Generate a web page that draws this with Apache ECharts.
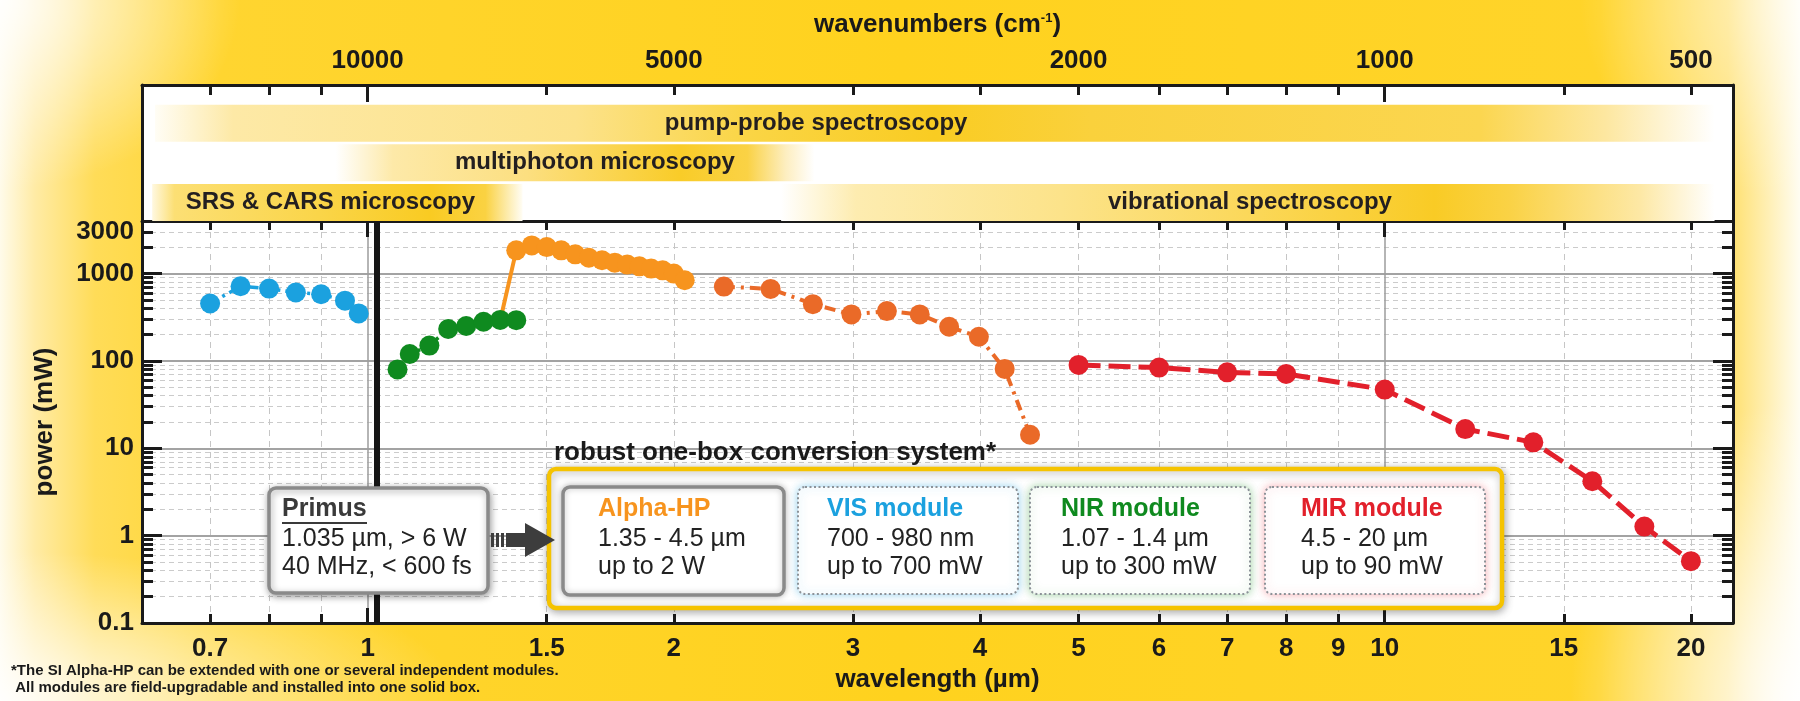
<!DOCTYPE html>
<html>
<head>
<meta charset="utf-8">
<script src="https://cdn.jsdelivr.net/npm/echarts@6/dist/echarts.min.js"></script>
<style>
html,body{margin:0;padding:0;width:1800px;height:701px;overflow:hidden;}
body{
  background:
    radial-gradient(ellipse 240px 190px at 0% 0%, rgba(255,255,255,0.9), rgba(255,255,255,0) 100%),
    radial-gradient(ellipse 460px 150px at 0% 100%, rgba(255,255,255,0.9), rgba(255,255,255,0) 100%),
    radial-gradient(ellipse 230px 300px at 100% 100%, rgba(255,255,255,0.95), rgba(255,255,255,0) 100%),
    radial-gradient(ellipse 220px 200px at 100% 0%, rgba(255,255,255,0.6), rgba(255,255,255,0) 100%),
    linear-gradient(to right, #fffbea 0px, #ffeba5 35px, #ffdc58 95px, #ffd530 220px, #ffd21e 900px, #ffd42a 1600px, #ffdf6a 1728px, #fff0b8 1770px, #fffdf2 1800px);
}
#c{width:1800px;height:701px;}
</style>
</head>
<body>
<div id="c"></div>
<script>
// ---------------- data ----------------
const visWavelength = [0.70, 0.75, 0.80, 0.85, 0.90, 0.95, 0.98];
const visPower      = [455, 716, 674, 607, 580, 490, 350];

const nirWavelength = [1.07, 1.10, 1.15, 1.20, 1.25, 1.30, 1.35, 1.40];
const nirPower      = [80, 120, 150, 232, 251, 281, 295, 293];

const alphaSignalWavelength = [1.35, 1.40, 1.45, 1.50, 1.55, 1.60, 1.65, 1.70, 1.75, 1.80, 1.85, 1.90, 1.95, 2.00, 2.05];
const alphaSignalPower      = [290, 1845, 2100, 2010, 1845, 1660, 1520, 1420, 1335, 1267, 1211, 1140, 1090, 1000, 840];

const alphaIdlerWavelength = [2.24, 2.49, 2.74, 2.99, 3.24, 3.49, 3.73, 3.99, 4.23, 4.48];
const alphaIdlerPower      = [710, 668, 447, 341, 372, 341, 246, 189, 81, 14.3];

const mirWavelength = [5, 6, 7, 8, 10, 12, 14, 16, 18, 20];
const mirPower      = [90, 84, 74, 71, 47, 16.6, 11.7, 4.2, 1.27, 0.51];

const primusWavelength = 1.025;

const bandNames = ['pump-probe spectroscopy', 'multiphoton microscopy', 'SRS & CARS microscopy', 'vibrational spectroscopy'];
const bandFrom  = [0.618, 0.93, 0.614, 2.55];
const bandTo    = [21.1, 2.75, 1.42, 21.1];
const bandRow   = [2, 1, 0, 0];

const wavelengthTicks      = [0.7, 1, 1.5, 2, 3, 4, 5, 6, 7, 8, 9, 10, 15, 20];
const wavelengthMinorTicks = [0.7, 0.8, 0.9, 1.5, 2, 3, 4, 5, 6, 7, 8, 9, 15, 20];
const wavelengthMajorTicks = [1, 10];
const wavenumberTicks      = [10000, 5000, 2000, 1000, 500];
const powerTicks           = [0.1, 1, 10, 100, 1000, 3000];
const powerMajorTicks      = [1, 10, 100, 1000];

// ---------------- styling / layout ----------------
const FONT = '"Liberation Sans", Arial, Helvetica, sans-serif';
const INK = '#1a1a1a';
const C = { vis:'#1ba1df', nir:'#0f8a1f', alpha:'#f7941e', idler:'#ea6a28', mir:'#e2202b' };
const X0 = 0.6, X1 = 22, Y0 = 0.1, Y1 = 4000;
const lg = Math.log10;

const powerMinorTicks = [];
[0.1, 1, 10, 100, 1000].forEach(d => { for (let k = 2; k <= 9; k++) { const v = k * d; if (v < Y1) powerMinorTicks.push(v); } });

const bandLabelAt = [2.76, 1.673, 0.919, 7.37];
const bandStops = [
  [[0,'#fffdf5'],[0.05,'#fde9a6'],[0.27,'#fce28a'],[0.38,'#fad545'],[0.5,'#f9cc22'],[0.6,'#fad13c'],[0.85,'#fbd650'],[0.93,'#fde7a0'],[1,'#ffffff']],
  [[0,'#ffffff'],[0.12,'#fde9a8'],[0.4,'#fcdf80'],[0.72,'#f9cc28'],[0.86,'#fad245'],[0.94,'#fdeec0'],[1,'#ffffff']],
  [[0,'#fff8e0'],[0.06,'#fcdf74'],[0.45,'#fad549'],[0.75,'#f9cb22'],[0.9,'#fad242'],[1,'#fffdf5']],
  [[0,'#ffffff'],[0.08,'#fdecb0'],[0.3,'#fce38a'],[0.5,'#fbd85a'],[0.7,'#f9cb25'],[0.78,'#fad245'],[0.92,'#fde8a5'],[1,'#ffffff']]
];

const AX_LINE = { show:true, onZero:false, lineStyle:{ color:INK, width:3 } };
const NO_LINE = { show:false, onZero:false };
const tick = (len, values) => ({ show:true, inside:true, length:len, customValues:values, lineStyle:{ color:INK, width:3 } });
const NO_LABEL = { show:false };
const labelStyle = { fontSize:26, fontWeight:'bold', color:INK, fontFamily:FONT };

const fmtWavelength = v => String(+Math.pow(10, v).toPrecision(3));
const fmtWavenumber = v => String(Math.round(1e4 / Math.pow(10, v)));
const fmtPower = v => String(+Math.pow(10, v).toPrecision(2));

const zip = (xs, ys) => xs.map((x, i) => [x, ys[i]]);

function renderBand(params, api) {
  const i = api.value(3);
  const row = api.value(2);
  const y0 = row * 1.05, y1 = y0 + 0.98;
  const p0 = api.coord([api.value(0), y0]);
  const p1 = api.coord([api.value(1), y1]);
  const lp = api.coord([bandLabelAt[i], y0 + 0.49]);
  return {
    type:'group',
    children:[
      { type:'rect', shape:{ x:p0[0], y:p1[1], width:p1[0]-p0[0], height:p0[1]-p1[1] },
        style:{ fill:new echarts.graphic.LinearGradient(0,0,1,0, bandStops[i].map(s => ({offset:s[0], color:s[1]}))) } },
      { type:'text', x:lp[0], y:lp[1],
        style:{ text:bandNames[i], fill:'#231f20', font:'bold 24px ' + FONT, align:'center', verticalAlign:'middle' } }
    ]
  };
}

const lineSeries = (name, xs, ys, color, width, dash, extra) => Object.assign({
  type:'line', name, xAxisIndex:3, yAxisIndex:2, data:zip(xs, ys),
  symbol:'circle', symbolSize:20, showAllSymbol:true,
  itemStyle:{ color }, lineStyle:{ color, width, type:dash },
  emphasis:{ disabled:true }, z:3
}, extra || {});

// ---------------- annotation boxes ----------------
const T = (x, y, text, font, fill) => ({ type:'text', x, y, z:120, silent:true,
  style:{ text, font:font + ' ' + FONT, fill, align:'left', verticalAlign:'middle' } });
const box = (x, y, w, h, style) => ({ type:'rect', z:110, silent:true, shape:{ x, y, width:w, height:h, r:7 }, style:Object.assign({ fill:'#fff' }, style) });
const moduleBox = (x, glow) => box(x, 487, 220, 107, { stroke:'#8c9298', lineWidth:2, lineDash:[2,2.5], shadowBlur:10, shadowColor:glow });

const graphics = [
  T(554, 453, 'robust one-box conversion system*', 'bold 26px', INK),
  box(549, 469, 953, 139, { stroke:'#f5c300', lineWidth:4.5, shadowBlur:8, shadowColor:'rgba(0,0,0,0.3)', shadowOffsetX:1, shadowOffsetY:2 }),
  box(269, 488, 219, 105, { stroke:'#8a8a8a', lineWidth:3.5, shadowBlur:7, shadowColor:'rgba(0,0,0,0.35)', shadowOffsetX:1, shadowOffsetY:2 }),
  box(563, 487, 221, 108, { stroke:'#8a8a8a', lineWidth:3.5, shadowBlur:6, shadowColor:'rgba(0,0,0,0.25)' }),
  moduleBox(798, 'rgba(30,160,220,0.45)'),
  moduleBox(1030, 'rgba(20,140,30,0.4)'),
  moduleBox(1265, 'rgba(226,32,43,0.35)'),
  T(282, 509, 'Primus', 'bold 25px', '#3a3a3a'),
  { type:'line', z:120, silent:true, shape:{ x1:282, y1:523, x2:367, y2:523 }, style:{ stroke:'#3a3a3a', lineWidth:2 } },
  T(282, 539, '1.035 µm, > 6 W', '25px', '#222'),
  T(282, 567, '40 MHz, < 600 fs', '25px', '#222'),
  T(598, 509, 'Alpha-HP', 'bold 25px', C.alpha),
  T(598, 539, '1.35 - 4.5 µm', '25px', '#222'),
  T(598, 567, 'up to 2 W', '25px', '#222'),
  T(827, 509, 'VIS module', 'bold 25px', C.vis),
  T(827, 539, '700 - 980 nm', '25px', '#222'),
  T(827, 567, 'up to 700 mW', '25px', '#222'),
  T(1061, 509, 'NIR module', 'bold 25px', C.nir),
  T(1061, 539, '1.07 - 1.4 µm', '25px', '#222'),
  T(1061, 567, 'up to 300 mW', '25px', '#222'),
  T(1301, 509, 'MIR module', 'bold 25px', C.mir),
  T(1301, 539, '4.5 - 20 µm', '25px', '#222'),
  T(1301, 567, 'up to 90 mW', '25px', '#222'),
  { type:'rect', z:115, silent:true, shape:{ x:491, y:533, width:3, height:14 }, style:{ fill:'#3d3d3d' } },
  { type:'rect', z:115, silent:true, shape:{ x:496, y:533, width:3, height:14 }, style:{ fill:'#3d3d3d' } },
  { type:'rect', z:115, silent:true, shape:{ x:501, y:533, width:3, height:14 }, style:{ fill:'#3d3d3d' } },
  { type:'polygon', z:115, silent:true, shape:{ points:[[506,533],[525,533],[525,523],[555,540],[525,557],[525,547],[506,547]] }, style:{ fill:'#3d3d3d' } },
  T(11, 671, '*The SI Alpha-HP can be extended with one or several independent modules.', 'bold 15px', INK),
  T(11, 688, ' All modules are field-upgradable and installed into one solid box.', 'bold 15px', INK)
];

// ---------------- chart ----------------
const chart = echarts.init(document.getElementById('c'), null, { renderer:'canvas', width:1800, height:701 });

const xv = { type:'value', min:lg(X0), max:lg(X1) };
const yv = { type:'value', min:lg(Y0), max:lg(Y1) };

chart.setOption({
  animation:false,
  backgroundColor:'transparent',
  textStyle:{ fontFamily:FONT },
  grid:[
    { left:142, right:67, top:85, height:136, show:true, backgroundColor:'#fff', borderWidth:0 },
    { left:142, right:67, top:221, bottom:78, show:true, backgroundColor:'#fff', borderWidth:0 }
  ],
  xAxis:[
    { gridIndex:0, type:'log', min:X0, max:X1, show:false },
    Object.assign({}, xv, { gridIndex:0, position:'top', axisLine:AX_LINE, axisTick:tick(10, wavelengthMinorTicks.map(lg)),
      axisLabel:Object.assign({ customValues:wavenumberTicks.map(w => lg(1e4 / w)), formatter:fmtWavenumber, margin:11 }, labelStyle),
      splitLine:{ show:false },
      name:'{a|wavenumbers (cm}{b|-1}{a|)}', nameLocation:'middle', nameGap:47,
      nameTextStyle:{ rich:{ a:{ fontSize:26, fontWeight:'bold', color:INK, fontFamily:FONT }, b:{ fontSize:13, fontWeight:'bold', color:INK, fontFamily:FONT, verticalAlign:'top' } } } }),
    Object.assign({}, xv, { gridIndex:0, position:'top', axisLine:NO_LINE, axisTick:tick(17, wavelengthMajorTicks.map(lg)), axisLabel:NO_LABEL, splitLine:{ show:false } }),
    { gridIndex:1, type:'log', min:X0, max:X1, show:false },
    Object.assign({}, xv, { gridIndex:1, position:'bottom', axisLine:AX_LINE, axisTick:tick(9, wavelengthMinorTicks.map(lg)),
      axisLabel:Object.assign({ customValues:wavelengthTicks.map(lg), formatter:fmtWavelength, margin:13 }, labelStyle),
      splitLine:{ show:true, lineStyle:{ color:'#c6c6c6', width:1, type:[6,5] } },
      name:'wavelength (µm)', nameLocation:'middle', nameGap:43,
      nameTextStyle:{ fontSize:26, fontWeight:'bold', color:INK, fontFamily:FONT } }),
    Object.assign({}, xv, { gridIndex:1, position:'bottom', axisLine:NO_LINE, axisTick:tick(15, wavelengthMajorTicks.map(lg)), axisLabel:NO_LABEL,
      splitLine:{ show:true, lineStyle:{ color:'#9c9c9c', width:1.5 } } }),
    Object.assign({}, xv, { gridIndex:1, position:'top', axisLine:AX_LINE, axisTick:tick(9, wavelengthMinorTicks.map(lg)), axisLabel:NO_LABEL, splitLine:{ show:false } }),
    Object.assign({}, xv, { gridIndex:1, position:'top', axisLine:NO_LINE, axisTick:tick(16, wavelengthMajorTicks.map(lg)), axisLabel:NO_LABEL, splitLine:{ show:false } })
  ],
  yAxis:[
    { gridIndex:0, type:'value', min:0, max:3.6, position:'left', axisLine:AX_LINE, axisTick:{ show:false }, axisLabel:NO_LABEL, splitLine:{ show:false } },
    { gridIndex:0, type:'value', min:0, max:3.6, position:'right', axisLine:AX_LINE, axisTick:{ show:false }, axisLabel:NO_LABEL, splitLine:{ show:false } },
    { gridIndex:1, type:'log', min:Y0, max:Y1, show:false },
    Object.assign({}, yv, { gridIndex:1, position:'left', axisLine:AX_LINE, axisTick:tick(11, powerMinorTicks.map(lg)),
      axisLabel:Object.assign({ customValues:powerTicks.map(lg), formatter:fmtPower, margin:8 }, labelStyle),
      splitLine:{ show:true, lineStyle:{ color:'#cbcbcb', width:1, type:[5,4] } },
      name:'power (mW)', nameLocation:'middle', nameRotate:90, nameGap:84,
      nameTextStyle:{ fontSize:26, fontWeight:'bold', color:INK, fontFamily:FONT } }),
    Object.assign({}, yv, { gridIndex:1, position:'left', axisLine:NO_LINE, axisTick:tick(20, powerMajorTicks.map(lg)), axisLabel:NO_LABEL,
      splitLine:{ show:true, lineStyle:{ color:'#a3a3a3', width:2 } } }),
    Object.assign({}, yv, { gridIndex:1, position:'right', axisLine:AX_LINE, axisTick:tick(11, powerMinorTicks.map(lg)), axisLabel:NO_LABEL, splitLine:{ show:false } }),
    Object.assign({}, yv, { gridIndex:1, position:'right', axisLine:NO_LINE, axisTick:tick(20, powerMajorTicks.map(lg)), axisLabel:NO_LABEL, splitLine:{ show:false } })
  ],
  series:[
    { type:'custom', name:'applications', xAxisIndex:0, yAxisIndex:0, renderItem:renderBand, silent:true,
      encode:{ x:[0,1], y:2 }, data:bandNames.map((n, i) => [bandFrom[i], bandTo[i], bandRow[i], i]) },
    lineSeries('VIS module', visWavelength, visPower, C.vis, 3.5, [9,5,3,5], {
      markLine:{ silent:true, symbol:['none','none'], label:{ show:false }, emphasis:{ disabled:true },
        lineStyle:{ color:'#161616', width:6, type:'solid' }, data:[{ xAxis:primusWavelength }] } }),
    Object.assign(lineSeries('Alpha-HP signal', alphaSignalWavelength, alphaSignalPower, C.alpha, 4, 'solid'),
      { data:zip(alphaSignalWavelength, alphaSignalPower).map((d, i) => i === 0 ? { value:d, symbol:'none' } : d) }),
    lineSeries('NIR module', nirWavelength, nirPower, C.nir, 3.5, [9,5,3,5], { z:4 }),
    lineSeries('Alpha-HP idler', alphaIdlerWavelength, alphaIdlerPower, C.idler, 4, [11,6,3,6]),
    lineSeries('MIR module', mirWavelength, mirPower, C.mir, 5, [22,8])
  ],
  graphic:{ elements:graphics }
});
</script>
</body>
</html>
